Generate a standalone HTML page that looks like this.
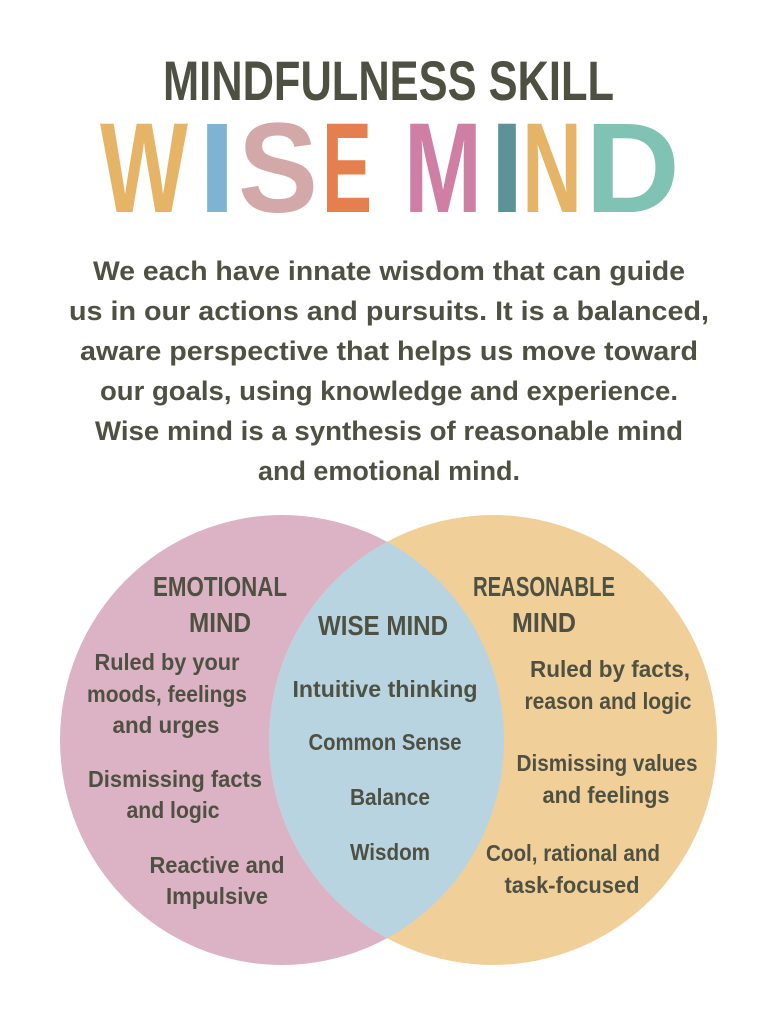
<!DOCTYPE html>
<html><head><style>
html,body{margin:0;padding:0;background:#fff;}
svg{display:block}
text{font-family:"Liberation Sans",sans-serif;fill:#4e5142;font-weight:bold}
</style></head><body>
<svg width="777" height="1023" viewBox="0 0 777 1023">
<defs><clipPath id="cl"><ellipse cx="282" cy="740" rx="222" ry="225"/></clipPath></defs>
<rect width="777" height="1023" fill="#fff"/>
<text x="163" y="100" font-size="56" textLength="451" lengthAdjust="spacingAndGlyphs">MINDFULNESS SKILL</text>
<g font-size="128" style="font-weight:bold">
<text x="100" y="212" textLength="88" lengthAdjust="spacingAndGlyphs" style="fill:#e5b466">W</text>
<text x="198" y="212" textLength="38" lengthAdjust="spacingAndGlyphs" style="fill:#7fb3d3">I</text>
<text x="238" y="212" textLength="80" lengthAdjust="spacingAndGlyphs" style="fill:#d2a8a8">S</text>
<text x="322" y="212" textLength="50" lengthAdjust="spacingAndGlyphs" style="fill:#e57f4e">E</text>
<text x="404" y="212" textLength="78" lengthAdjust="spacingAndGlyphs" style="fill:#cf7fa3">M</text>
<text x="490" y="212" textLength="34" lengthAdjust="spacingAndGlyphs" style="fill:#5e9395">I</text>
<text x="522" y="212" textLength="60" lengthAdjust="spacingAndGlyphs" style="fill:#e5b466">N</text>
<text x="585" y="212" textLength="95" lengthAdjust="spacingAndGlyphs" style="fill:#80c3b4">D</text>
</g>
<g font-size="27" text-anchor="middle">
<text x="389" y="280" textLength="592" lengthAdjust="spacingAndGlyphs">We each have innate wisdom that can guide</text>
<text x="389" y="320" textLength="640" lengthAdjust="spacingAndGlyphs">us in our actions and pursuits. It is a balanced,</text>
<text x="389" y="360" textLength="618" lengthAdjust="spacingAndGlyphs">aware perspective that helps us move toward</text>
<text x="389" y="400" textLength="578" lengthAdjust="spacingAndGlyphs">our goals, using knowledge and experience.</text>
<text x="389" y="440" textLength="588" lengthAdjust="spacingAndGlyphs">Wise mind is a synthesis of reasonable mind</text>
<text x="389" y="480" textLength="262" lengthAdjust="spacingAndGlyphs">and emotional mind.</text>
</g>
<ellipse cx="282" cy="740" rx="222" ry="225" fill="#dbb3c5"/>
<ellipse cx="493" cy="740" rx="224" ry="225" fill="#f1cf98"/>
<ellipse cx="493" cy="740" rx="224" ry="225" fill="#b9d4e1" clip-path="url(#cl)"/>
<g font-size="28" text-anchor="middle">
<text x="220" y="596" textLength="134" lengthAdjust="spacingAndGlyphs">EMOTIONAL</text>
<text x="220" y="632" textLength="62" lengthAdjust="spacingAndGlyphs">MIND</text>
<text x="383" y="635" textLength="130" lengthAdjust="spacingAndGlyphs">WISE MIND</text>
<text x="544" y="596" textLength="142" lengthAdjust="spacingAndGlyphs">REASONABLE</text>
<text x="544" y="632" textLength="64" lengthAdjust="spacingAndGlyphs">MIND</text>
</g>
<g font-size="23" text-anchor="middle" style="font-weight:normal">
<text x="167" y="670" textLength="145" lengthAdjust="spacingAndGlyphs">Ruled by your</text>
<text x="167" y="702" textLength="160" lengthAdjust="spacingAndGlyphs">moods, feelings</text>
<text x="166" y="733" textLength="107" lengthAdjust="spacingAndGlyphs">and urges</text>
<text x="175" y="787" textLength="174" lengthAdjust="spacingAndGlyphs">Dismissing facts</text>
<text x="173" y="818" textLength="93" lengthAdjust="spacingAndGlyphs">and logic</text>
<text x="217" y="873" textLength="135" lengthAdjust="spacingAndGlyphs">Reactive and</text>
<text x="217" y="904" textLength="102" lengthAdjust="spacingAndGlyphs">Impulsive</text>
<text x="385" y="697" textLength="185" lengthAdjust="spacingAndGlyphs">Intuitive thinking</text>
<text x="385" y="750" textLength="153" lengthAdjust="spacingAndGlyphs">Common Sense</text>
<text x="390" y="805" textLength="80" lengthAdjust="spacingAndGlyphs">Balance</text>
<text x="390" y="860" textLength="80" lengthAdjust="spacingAndGlyphs">Wisdom</text>
<text x="610" y="677" textLength="160" lengthAdjust="spacingAndGlyphs">Ruled by facts,</text>
<text x="608" y="709" textLength="167" lengthAdjust="spacingAndGlyphs">reason and logic</text>
<text x="607" y="771" textLength="181" lengthAdjust="spacingAndGlyphs">Dismissing values</text>
<text x="606" y="803" textLength="127" lengthAdjust="spacingAndGlyphs">and feelings</text>
<text x="573" y="861" textLength="174" lengthAdjust="spacingAndGlyphs">Cool, rational and</text>
<text x="572" y="893" textLength="135" lengthAdjust="spacingAndGlyphs">task-focused</text>
</g>
</svg>
</body></html>
